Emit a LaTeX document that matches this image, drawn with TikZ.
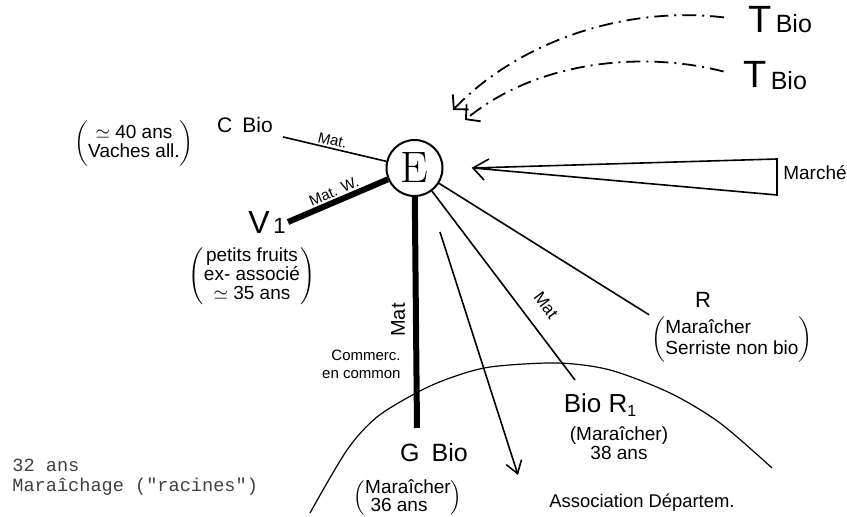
\documentclass[tikz,border=0pt]{standalone}
\usepackage{amsmath, amssymb}
\usepackage{fontspec}
\usepackage{tikz}
\usetikzlibrary{arrows.meta}

\newfontfamily\hand{Liberation Sans}
\newfontfamily\typew{Liberation Mono}

\tikzset{
    hand/.style={font=\hand\fontsize{#1}{#1}\selectfont, inner sep=1pt},
    hand/.default=9.5,
    link/.style={line width=0.8pt},
    thicklink/.style={line width=3pt},
    tbiolink/.style={line width=0.9pt, dash pattern=on 7pt off 3pt on 1pt off 3pt,
        -{Straight Barb[length=5pt,width=11pt]}},
    typed/.style={font=\typew\fontsize{9.3}{9.3}\selectfont, text=black!75, anchor=base west, inner sep=0pt},
}

\begin{document}
\begin{tikzpicture}[x=0.5pt, y=-0.5pt]
        \useasboundingbox (0,0) rectangle (847,517);

        \node[circle, draw, line width=1pt, minimum size=28pt, inner sep=0pt,
            font=\fontsize{22}{22}\selectfont] (E) at (414.5,168) {E};

        \node[hand=19, anchor=base west] (T1) at (746,33) {T{\fontsize{12.5}{12.5}\selectfont\,Bio}};
        \node[hand=19, anchor=base west] (T2) at (741,88) {T{\fontsize{12.5}{12.5}\selectfont\,\raisebox{-1pt}{Bio}}};
        \coordinate (ll1) at (453,110);
        \coordinate (ll2) at (465,120);
        \draw[tbiolink, shorten <=11pt] (T1.west) .. controls (620,5) and (515,45) .. (ll1);
        \draw[tbiolink, shorten <=9pt] (T2.west) .. controls (640,50) and (535,62) .. (ll2);

        \node[hand=10.5] (CBio) at (245,125) {C\hspace{5pt}Bio};
        \node[hand] (CBioNote) at (134,144)
            {$\left(\begin{tabular}{@{}c@{}}$\simeq$ 40 ans\\Vaches all.\end{tabular}\right)$};
        \draw[link, shorten <=4pt] (CBio.south east) -- node[hand=7.5, above, sloped] {Mat.} (E);

        \node[hand=16] (V1) at (267,222) {V{\fontsize{11}{11}\selectfont\,1}};
        \node[hand, font=\hand\fontsize{9.5}{8.5}\selectfont] (V1Note) at (252,276)
            {$\left(\begin{tabular}{@{}c@{}}petits fruits\\ex- associé\\$\simeq$ 35 ans\end{tabular}\right)$};
        \draw[thicklink] (V1.east) -- node[hand=7.5, above, sloped] {Mat. W.} (E);

        \coordinate (gtop) at (417,428);
        \draw[thicklink] (E) -- (gtop);
        \node[hand=10, rotate=90] (MatG) at (398,320) {Mat};
        \node[hand, font=\hand\fontsize{7.5}{9}\selectfont, align=right, anchor=east] (Comm)
            at (403,364) {Commerc.\\en common};

        \coordinate (arrS) at (440,232);
        \coordinate (arrE) at (518,475);
        \draw[link, -{Straight Barb[length=6pt,width=8pt]}] (arrS) -- (arrE);

        \node[hand=13] (BioR1) at (600,405) {Bio R\raisebox{-2pt}{\fontsize{8}{8}\selectfont 1}};
        \node[hand, font=\hand\fontsize{9.5}{9}\selectfont] (R1Note) at (619,446)
            {\begin{tabular}{@{}c@{}}(Maraîcher)\\38 ans\end{tabular}};
        \coordinate (r1top) at (575,380);
        \draw[link] (E) -- (r1top);
        \node[hand=8.5, rotate=-53] (MatR1) at (546,305) {Mat};

        \node[hand=11] (R) at (703,300) {R};
        \node[hand, font=\hand\fontsize{9.5}{10.5}\selectfont] (RNote) at (732,340)
            {$\left(\begin{tabular}{@{}l@{}}Maraîcher\\Serriste non bio\end{tabular}\right)$};
        \draw[link] (E) -- (RNote.north west);

        \node[hand] (Marche) at (815,173) {Marché};
        \coordinate (mtip) at (473,168);
        \coordinate (mtop) at (777,159);
        \coordinate (mbot) at (777,195);
        \draw[link] (mtop) -- (mtip) -- (mbot) -- cycle;
        \draw[link] (mtip) ++(16,-9) -- (mtip) -- ++(11,12);

        \draw[line width=0.6pt] plot[smooth] coordinates {(310,513) (347,450) (377,417) (418,392)
            (450,378) (490,367) (557,363) (610,370) (670,393) (720,423) (772,468)};

        \node[hand=12.5] (GBio) at (434,453) {G\hspace{6pt}Bio};
        \node[hand, font=\hand\fontsize{9.5}{8.5}\selectfont] (GNote) at (408,498)
            {$\left(\begin{tabular}{@{}l@{}}Maraîcher\\\ 36 ans\end{tabular}\right)$};

        \node[hand=9.2] (Assoc) at (642,503) {Association Départem.};

        \node[typed] (Age) at (12,472) {32 ans};
        \node[typed] (Racines) at (12,492) {Maraîchage ("racines")};
    \end{tikzpicture}
\end{document}
